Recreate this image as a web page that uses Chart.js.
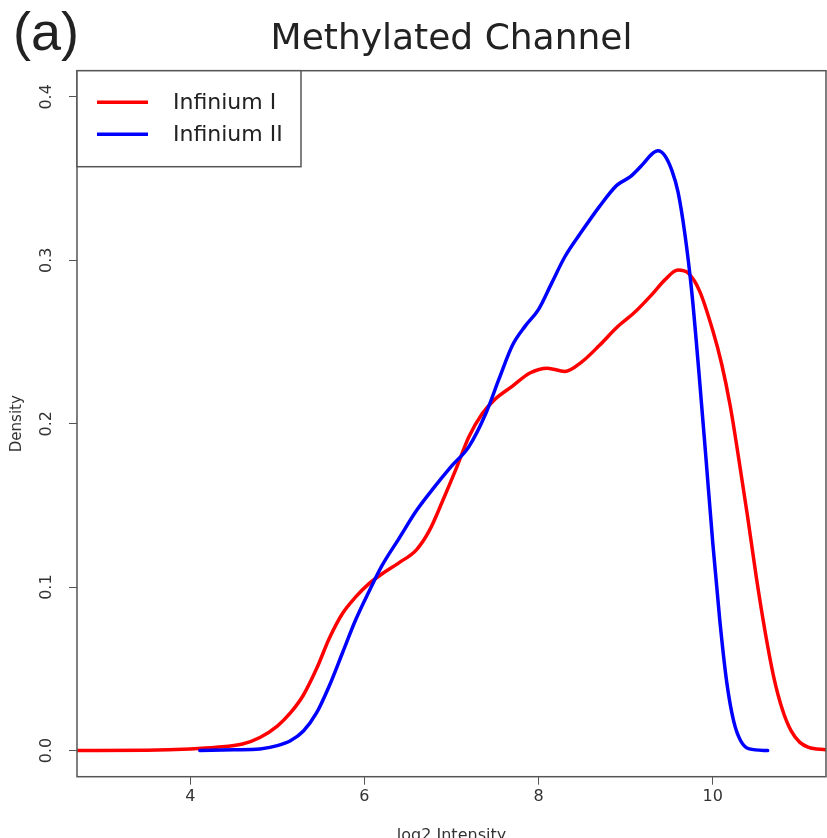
<!DOCTYPE html>
<html>
<head>
<meta charset="utf-8">
<script src="https://cdn.jsdelivr.net/npm/chart.js@4.4.1/dist/chart.umd.min.js"></script>
<style>
  body { margin: 0; background: #fff; }
  canvas { display: block; }
</style>
</head>
<body>
<canvas id="myChart" width="827" height="838"></canvas>
<script>
// density of log2 intensity
const redX = [2.7, 3.5, 4.0, 4.3, 4.6, 4.8, 5.0, 5.15, 5.3, 5.45, 5.6, 5.75, 5.9, 6.05, 6.2, 6.4, 6.6, 6.75, 6.9, 7.05, 7.2, 7.35, 7.5, 7.7, 7.9, 8.1, 8.3, 8.5, 8.7, 8.9, 9.1, 9.3, 9.45, 9.6, 9.72, 9.85, 10.0, 10.1, 10.2, 10.3, 10.4, 10.5, 10.6, 10.7, 10.8, 10.9, 11.0, 11.1, 11.3];
const redY = [0.0, 0.0002, 0.001, 0.002, 0.004, 0.008, 0.015, 0.023, 0.034, 0.05, 0.069, 0.084, 0.094, 0.102, 0.108, 0.115, 0.123, 0.135, 0.153, 0.172, 0.192, 0.206, 0.215, 0.223, 0.231, 0.234, 0.232, 0.238, 0.248, 0.259, 0.268, 0.279, 0.288, 0.294, 0.292, 0.281, 0.257, 0.237, 0.211, 0.178, 0.143, 0.106, 0.073, 0.045, 0.025, 0.012, 0.005, 0.002, 0.0005];

const blueX = [4.11, 4.5, 4.8, 5.0, 5.15, 5.3, 5.45, 5.6, 5.75, 5.9, 6.05, 6.2, 6.4, 6.6, 6.8, 7.0, 7.2, 7.4, 7.55, 7.7, 7.85, 8.0, 8.15, 8.3, 8.5, 8.7, 8.9, 9.05, 9.2, 9.3, 9.37, 9.45, 9.53, 9.6, 9.68, 9.76, 9.84, 9.92, 10.0, 10.08, 10.16, 10.24, 10.32, 10.42, 10.63];
const blueY = [0.0, 0.0005, 0.001, 0.003, 0.006, 0.012, 0.023, 0.04, 0.06, 0.08, 0.097, 0.113, 0.13, 0.147, 0.161, 0.174, 0.186, 0.207, 0.228, 0.248, 0.26, 0.27, 0.286, 0.302, 0.318, 0.333, 0.346, 0.351, 0.359, 0.365, 0.367, 0.364, 0.355, 0.342, 0.316, 0.28, 0.232, 0.18, 0.127, 0.08, 0.042, 0.018, 0.006, 0.001, 0.0];

const xTicks = [4, 6, 8, 10];
const yTicks = [0.0, 0.1, 0.2, 0.3, 0.4];

const font = "DejaVu Sans";

const framePlugin = {
  id: "frame",
  beforeDraw(chart) {
    const ctx = chart.ctx;
    ctx.save();
    ctx.fillStyle = "#fff";
    ctx.fillRect(0, 0, chart.width, chart.height);
    ctx.restore();
  },
  afterDatasetsDraw(chart) {
    const { ctx, chartArea: a } = chart;
    ctx.save();
    ctx.strokeStyle = "#555";
    ctx.lineWidth = 1.5;
    ctx.strokeRect(a.left, a.top, a.right - a.left, a.bottom - a.top);

    // legend box top-left, like R's legend("topleft")
    const lx = a.left, ly = a.top, lw = 224, lh = 96;
    ctx.fillStyle = "#fff";
    ctx.fillRect(lx, ly, lw, lh);
    ctx.strokeRect(lx, ly, lw, lh);
    chart.data.datasets.forEach((ds, i) => {
      const y = ly + 31.5 + i * 32;
      ctx.strokeStyle = ds.borderColor;
      ctx.lineWidth = 3.5;
      ctx.beginPath();
      ctx.moveTo(lx + 20, y);
      ctx.lineTo(lx + 71, y);
      ctx.stroke();
      ctx.fillStyle = "#222";
      ctx.font = "22px '" + font + "'";
      ctx.textBaseline = "middle";
      ctx.textAlign = "left";
      ctx.fillText(ds.label, lx + 96, y + 1);
    });

    // panel letter
    ctx.fillStyle = "#222";
    ctx.font = "54px 'Liberation Sans'";
    ctx.textBaseline = "alphabetic";
    ctx.fillText("(a)", 13, 50);
    ctx.restore();
  },
};

const chart1 = document.getElementById("myChart").getContext("2d");
const myChart = new Chart(chart1, {
  type: "line",
  data: {
    datasets: [
      {
        label: "Infinium I",
        data: redX.map((x, i) => ({ x: x, y: redY[i] })),
        borderColor: "#ff0000",
        borderWidth: 3.5,
        pointRadius: 0,
        cubicInterpolationMode: "monotone",
        borderCapStyle: "round",
        borderJoinStyle: "round",
        fill: false,
        order: 1,
      },
      {
        label: "Infinium II",
        data: blueX.map((x, i) => ({ x: x, y: blueY[i] })),
        borderColor: "#0000ff",
        borderWidth: 3.5,
        pointRadius: 0,
        cubicInterpolationMode: "monotone",
        borderCapStyle: "round",
        borderJoinStyle: "round",
        fill: false,
        order: 0,
      },
    ],
  },
  options: {
    responsive: false,
    animation: false,
    layout: { padding: { top: 0, right: 1, bottom: 0, left: 0 } },
    plugins: {
      legend: { display: false },
      tooltip: { enabled: false },
      title: {
        display: true,
        text: "Methylated Channel",
        fullSize: false,
        color: "#222",
        font: { family: font, size: 36, weight: "normal" },
        padding: { top: 18, bottom: 9.5 },
      },
    },
    scales: {
      x: {
        type: "linear",
        min: 2.7,
        max: 11.3,
        afterBuildTicks: (s) => {
          s.ticks = xTicks.map((v) => ({ value: v }));
        },
        afterFit: (s) => {
          s.height = 61.3;
        },
        grid: { display: true, drawOnChartArea: false, drawTicks: true, tickLength: 8, color: "#555", lineWidth: 1 },
        border: { display: false },
        ticks: {
          color: "#333",
          font: { family: font, size: 16 },
          padding: 3,
          maxRotation: 0,
          autoSkip: false,
          callback: (v) => String(v),
        },
        title: {
          display: true,
          text: "log2 Intensity",
          color: "#333",
          font: { family: font, size: 16 },
          padding: { top: 0, bottom: -7 },
        },
      },
      y: {
        type: "linear",
        min: -0.016,
        max: 0.416,
        afterBuildTicks: (s) => {
          s.ticks = yTicks.map((v) => ({ value: v }));
        },
        afterFit: (s) => {
          s.width = 77;
        },
        grid: { display: true, drawOnChartArea: false, drawTicks: true, tickLength: 8, color: "#555", lineWidth: 1 },
        border: { display: false },
        ticks: {
          color: "#333",
          font: { family: font, size: 16 },
          minRotation: 90,
          maxRotation: 90,
          crossAlign: "center",
          padding: 9,
          autoSkip: false,
          callback: (v) => Number(v).toFixed(1),
        },
        title: {
          display: true,
          text: "Density",
          color: "#333",
          font: { family: font, size: 15 },
          padding: { top: 8.5, bottom: 0 },
        },
      },
    },
  },
  plugins: [framePlugin],
});
</script>
</body>
</html>
